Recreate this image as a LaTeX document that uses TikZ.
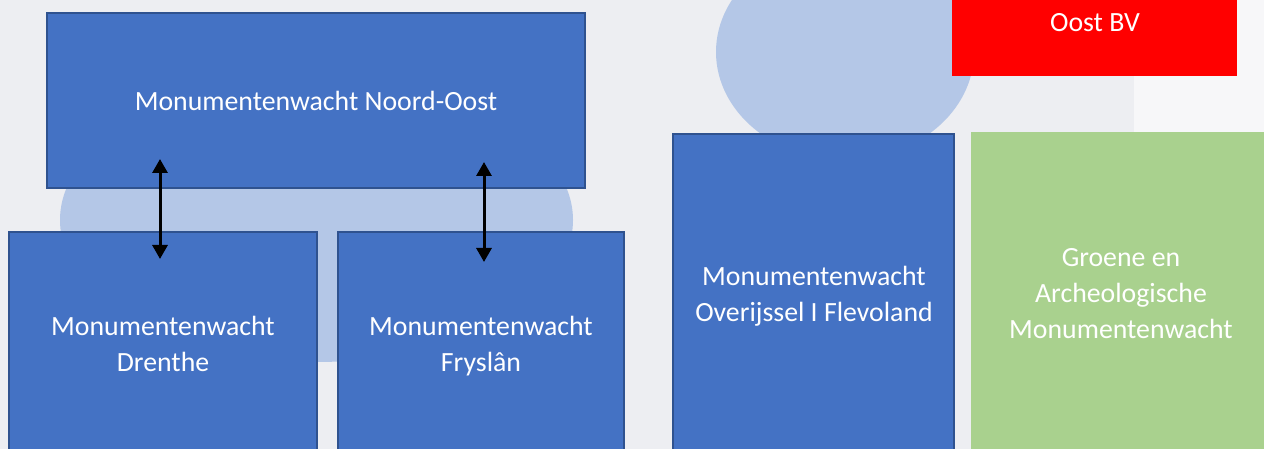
\documentclass[tikz,border=0pt]{standalone}
\usepackage{fontspec}
\setmainfont{Carlito}
\usetikzlibrary{arrows.meta}
\definecolor{bgc}{HTML}{EDEEF2}
\definecolor{lightreg}{HTML}{F7F7F9}
\definecolor{softblue}{HTML}{B4C7E7}
\definecolor{boxblue}{HTML}{4472C4}
\definecolor{boxline}{HTML}{2F528F}
\definecolor{boxgreen}{HTML}{A9D18E}
\definecolor{boxred}{HTML}{FF0000}
\begin{document}
\begin{tikzpicture}[x=1pt,y=-1pt,
  box/.style={draw=boxline, line width=2pt, fill=boxblue, inner sep=0pt, outer sep=0pt, anchor=north west},
  flatbox/.style={inner sep=0pt, outer sep=0pt, anchor=north west},
  lbl/.style={text=white, font=\fontsize{27.8pt}{33pt}\selectfont, inner sep=0pt, anchor=base},
  link/.style={{Triangle[width=15pt,length=14pt]}-{Triangle[width=15pt,length=14pt]}, line width=3pt, black}]
\useasboundingbox (0,0) rectangle (1264,449);
\clip (0,0) rectangle (1264,449);
\fill[bgc] (0,0) rectangle (1264,449);
\fill[lightreg] (1134,0) rectangle (1264,132);
\fill[softblue] (316.5,220) ellipse [x radius=256.5pt, y radius=142pt];
\fill[softblue] (845,52) ellipse [x radius=129pt, y radius=108pt];
% boxes
\node[flatbox, fill=boxred, minimum width=285pt, minimum height=100pt] (oost) at (952,-24) {};
\node[box, minimum width=538pt, minimum height=175pt] (noordoost) at (47,13) {};
\node[box, minimum width=308pt, minimum height=240pt] (drenthe) at (9,232) {};
\node[box, minimum width=286pt, minimum height=240pt] (fryslan) at (338,232) {};
\node[box, minimum width=281pt, minimum height=340pt] (overijssel) at (673,134) {};
\node[flatbox, fill=boxgreen, minimum width=301pt, minimum height=340pt] (groene) at (971,132) {};
% labels
\node[lbl] (oost-t) at (1095,32) {Oost BV};
\node[lbl] (noordoost-t) at (316,111) {Monumentenwacht Noord-Oost};
\node[lbl] (drenthe-t1) at (163,335) {Monumentenwacht};
\node[lbl] (drenthe-t2) at (163,371) {Drenthe};
\node[lbl] (fryslan-t1) at (481,335) {Monumentenwacht};
\node[lbl] (fryslan-t2) at (481,371) {Fryslân};
\node[lbl] (overijssel-t1) at (814,285) {Monumentenwacht};
\node[lbl] (overijssel-t2) at (814,321) {Overijssel I Flevoland};
\node[lbl] (groene-t1) at (1121,266) {Groene en};
\node[lbl] (groene-t2) at (1121,302) {Archeologische};
\node[lbl] (groene-t3) at (1121,338) {Monumentenwacht};
% connectors
\coordinate (a1s) at (160,159);
\coordinate (a1e) at (160,259);
\coordinate (a2s) at (484,162);
\coordinate (a2e) at (484,262);
\draw[link] (a1s) -- (a1e);
\draw[link] (a2s) -- (a2e);
\end{tikzpicture}
\end{document}
